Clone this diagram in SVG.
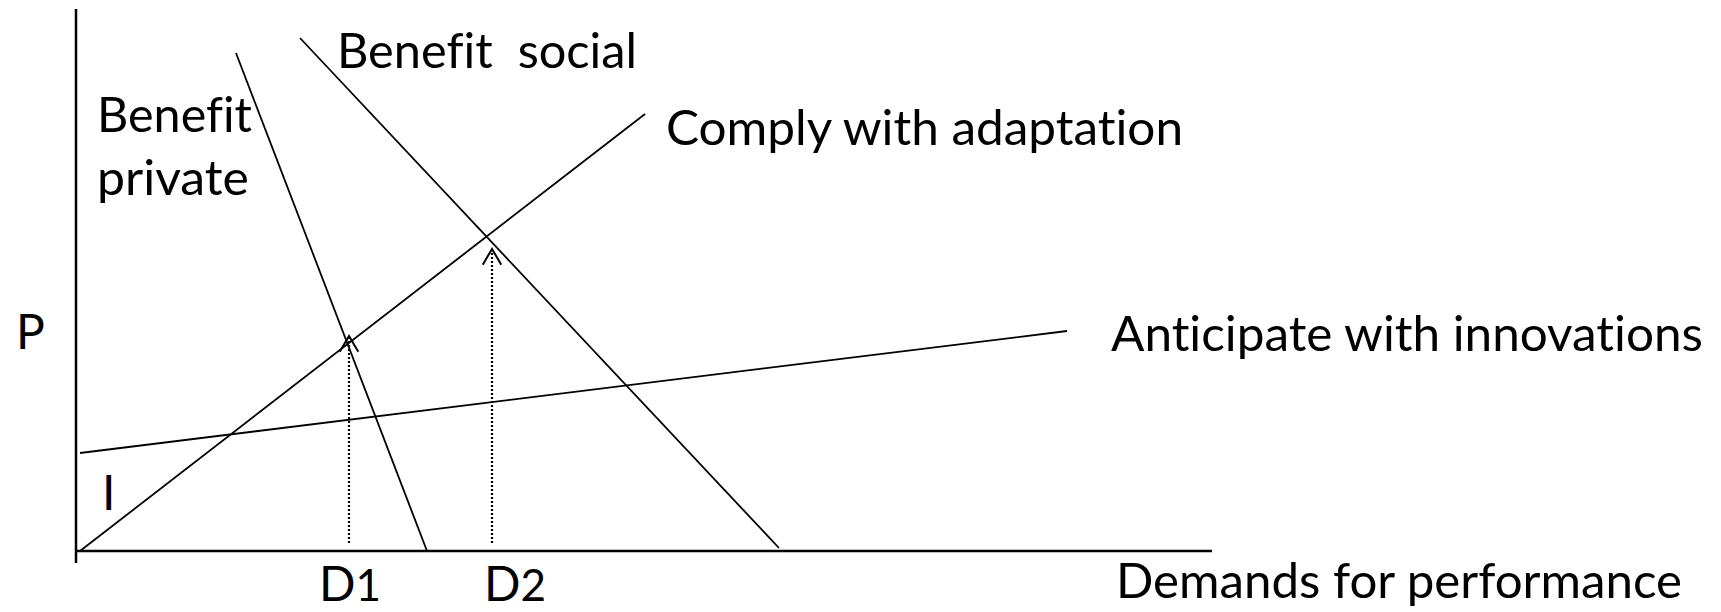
<svg xmlns="http://www.w3.org/2000/svg" width="1721" height="612" viewBox="0 0 1721 612">
<style>
.t{font-family:Lato,"Open Sans","Liberation Sans",sans-serif;font-size:48px;fill:#000;white-space:pre;font-variant-ligatures:none}
.ln{stroke:#000;stroke-width:1.8;fill:none}
.ax{stroke:#000;stroke-width:2.5;fill:none}
.dot{stroke:#000;stroke-width:2.2;stroke-dasharray:2 2;fill:none}
</style>
<defs>
<marker id="open" viewBox="0 0 20 20" refX="18" refY="10" markerWidth="20" markerHeight="20" markerUnits="userSpaceOnUse" orient="auto">
<path d="M2.3 0.7 L18 10 L2.3 19.3" stroke="#000" stroke-width="2" fill="none"/>
</marker>
</defs>
<rect width="1721" height="612" fill="#fff"/>
<g id="axes">
<line class="ax" x1="76" y1="9" x2="76" y2="563"/>
<line class="ax" x1="77" y1="551" x2="1212" y2="551"/>
<text class="t" x="16" y="349">P</text>
<text class="t" x="102" y="510">I</text>
<text class="t" x="1116" y="598" textLength="566" lengthAdjust="spacingAndGlyphs">Demands for performance</text>
<text class="t" x="319" y="601">D<tspan font-size="44">1</tspan></text>
<text class="t" x="484" y="601">D<tspan font-size="44">2</tspan></text>
</g>
<g id="benefit-private">
<line class="ln" x1="236" y1="53" x2="427" y2="551"/>
<text class="t" x="97" y="132" textLength="155" lengthAdjust="spacingAndGlyphs">Benefit</text>
<text class="t" x="97" y="195" textLength="152" lengthAdjust="spacingAndGlyphs">private</text>
</g>
<g id="benefit-social">
<line class="ln" x1="300" y1="38" x2="779" y2="548"/>
<text class="t" x="337" y="68" textLength="300" lengthAdjust="spacingAndGlyphs">Benefit  social</text>
</g>
<g id="comply">
<line class="ln" x1="80" y1="551" x2="645" y2="114"/>
<text class="t" x="666" y="145" textLength="517" lengthAdjust="spacingAndGlyphs">Comply with adaptation</text>
</g>
<g id="anticipate">
<line class="ln" x1="80" y1="453" x2="1067" y2="331"/>
<text class="t" x="1111" y="351" textLength="592" lengthAdjust="spacingAndGlyphs">Anticipate with innovations</text>
</g>
<g id="connectors">
<line class="dot" x1="349" y1="543" x2="349" y2="336" marker-end="url(#open)"/>
<line class="dot" x1="492" y1="543" x2="492" y2="249" marker-end="url(#open)"/>
</g>
</svg>
